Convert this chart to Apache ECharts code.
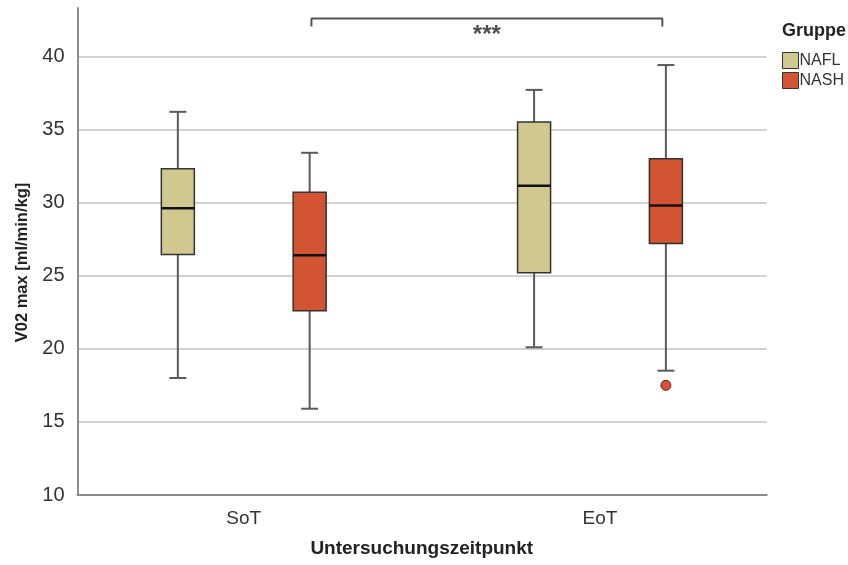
<!DOCTYPE html>
<html>
<head>
<meta charset="utf-8">
<script src="https://cdn.jsdelivr.net/npm/echarts@6/dist/echarts.min.js"></script>
<style>html,body{margin:0;padding:0;background:#fff}#c{width:848px;height:565px}</style>
</head>
<body>
<div id="c"></div>
<script>
// ---- data ----
const categories = ['SoT', 'EoT'];
const groups = ['NAFL', 'NASH'];
// [min, Q1, median, Q3, max] per category
const naflStats = [
  [18.0, 26.45, 29.6, 32.3, 36.2],
  [20.1, 25.2, 31.15, 35.5, 37.7]
];
const nashStats = [
  [15.9, 22.6, 26.4, 30.7, 33.4],
  [18.5, 27.2, 29.8, 33.0, 39.4]
];
// outliers: [categoryIndex, value]
const nashOutliers = [[1, 17.5]];
const yTicks = [10, 15, 20, 25, 30, 35, 40];
const sigLabel = '***';
const sigBracketValues = [42.04, 42.59]; // leg bottom, bar top

// ---- layout constants ----
const BOX_OFFSET = 0.185;
const colors = { NAFL: '#d0c88e', NASH: '#d35432' };

function boxData(stats, off) {
  return stats.map((s, i) => [i + off].concat(s));
}

function renderBox(params, api) {
  const x = api.value(0);
  const mn = api.value(1), q1 = api.value(2), md = api.value(3), q3 = api.value(4), mx = api.value(5);
  const c = v => api.coord([x, v]);
  const pMin = c(mn), pQ1 = c(q1), pMd = c(md), pQ3 = c(q3), pMax = c(mx);
  const cx = pMd[0];
  const hw = 16.5, cw = 8.5;
  const fill = api.visual('color');
  const wStyle = { stroke: '#5a5a5a', lineWidth: 2 };
  return {
    type: 'group',
    children: [
      { type: 'line', shape: { x1: cx, y1: pMax[1], x2: cx, y2: pQ3[1] }, style: wStyle },
      { type: 'line', shape: { x1: cx, y1: pQ1[1], x2: cx, y2: pMin[1] }, style: wStyle },
      { type: 'line', shape: { x1: cx - cw, y1: pMax[1], x2: cx + cw, y2: pMax[1] }, style: wStyle },
      { type: 'line', shape: { x1: cx - cw, y1: pMin[1], x2: cx + cw, y2: pMin[1] }, style: wStyle },
      { type: 'rect', shape: { x: cx - hw, y: pQ3[1], width: hw * 2, height: pQ1[1] - pQ3[1] },
        style: { fill: fill, stroke: '#333', lineWidth: 1.5 } },
      { type: 'line', shape: { x1: cx - hw, y1: pMd[1], x2: cx + hw, y2: pMd[1] },
        style: { stroke: '#111', lineWidth: 2.5 } }
    ]
  };
}

const chart = echarts.init(document.getElementById('c'), null, { renderer: 'canvas' });
const fontFam = 'Liberation Sans, Arial, sans-serif';

const bracketX = [0 + BOX_OFFSET + 0.005, 1 + BOX_OFFSET - 0.01];

chart.setOption({
  animation: false,
  backgroundColor: '#fff',
  textStyle: { fontFamily: fontFam },
  title: {
    text: 'Gruppe', left: 777, top: 17,
    textStyle: { fontFamily: fontFam, fontSize: 18, fontWeight: 'bold', color: '#222' }
  },
  legend: {
    data: groups, orient: 'vertical', left: 777, top: 47,
    icon: 'rect', itemWidth: 16, itemHeight: 16, itemGap: 3,
    itemStyle: { borderColor: '#333', borderWidth: 1 },
    textStyle: { fontFamily: fontFam, fontSize: 16, color: '#333', padding: [0, 0, 0, -4] },
    selectedMode: false
  },
  grid: [
    { left: 77.5, right: 81.3, top: 8, bottom: 70 },
    { left: 65.5, right: 70, top: 8, bottom: 70 }
  ],
  xAxis: [
    {
      type: 'value', gridIndex: 0, min: -0.4667, max: 1.468,
      axisLine: { show: true, onZero: false, lineStyle: { color: '#8c8c8c', width: 2 } },
      axisTick: { show: false }, axisLabel: { show: false }, splitLine: { show: false }
    },
    {
      type: 'category', gridIndex: 1, data: categories, boundaryGap: true,
      axisLine: { show: false }, axisTick: { show: false },
      axisLabel: { fontSize: 19, color: '#333', margin: 14, fontFamily: fontFam },
      name: 'Untersuchungszeitpunkt', nameLocation: 'middle', nameGap: 44,
      nameTextStyle: { fontSize: 19, fontWeight: 'bold', color: '#222', fontFamily: fontFam }
    }
  ],
  yAxis: [
    {
      type: 'value', gridIndex: 0, min: yTicks[0], max: 43.3, interval: 5,
      axisLine: { show: true, onZero: false, lineStyle: { color: '#8c8c8c', width: 2 } },
      axisTick: { show: false },
      axisLabel: {
        fontSize: 20, color: '#333', margin: 13, fontFamily: fontFam, showMaxLabel: false,
        formatter: v => (yTicks.indexOf(v) >= 0 ? String(v) : '')
      },
      splitLine: { show: true, showMaxLine: false, lineStyle: { color: '#d2d2d2', width: 2 } },
      name: 'V02 max [ml/min/kg]', nameLocation: 'middle', nameGap: 47,
      nameTextStyle: { fontSize: 16.5, fontWeight: 'bold', color: '#222', fontFamily: fontFam, padding: [0, 22, 0, 0] }
    },
    {
      type: 'value', gridIndex: 1, min: 10, max: 43.3, show: false
    }
  ],
  series: [
    {
      name: 'NAFL', type: 'custom', xAxisIndex: 0, yAxisIndex: 0,
      itemStyle: { color: colors.NAFL, borderColor: '#333', borderWidth: 1 },
      renderItem: renderBox, encode: { x: 0, y: [1, 2, 3, 4, 5] },
      data: boxData(naflStats, -BOX_OFFSET), z: 3
    },
    {
      name: 'NASH', type: 'custom', xAxisIndex: 0, yAxisIndex: 0,
      itemStyle: { color: colors.NASH, borderColor: '#333', borderWidth: 1 },
      renderItem: renderBox, encode: { x: 0, y: [1, 2, 3, 4, 5] },
      data: boxData(nashStats, BOX_OFFSET), z: 3
    },
    {
      name: 'NASH outliers', type: 'scatter', xAxisIndex: 0, yAxisIndex: 0,
      symbol: 'circle', symbolSize: 10,
      itemStyle: { color: colors.NASH, borderColor: '#6a2412', borderWidth: 1, opacity: 1 },
      data: nashOutliers.map(o => [o[0] + BOX_OFFSET, o[1]]), z: 4
    },
    {
      name: 'bracket', type: 'line', xAxisIndex: 0, yAxisIndex: 0,
      symbol: 'none', lineStyle: { color: '#555', width: 2 },
      data: [
        [bracketX[0], sigBracketValues[0]],
        [bracketX[0], sigBracketValues[1]],
        [bracketX[1], sigBracketValues[1]],
        [bracketX[1], sigBracketValues[0]]
      ], z: 4
    },
    {
      name: 'sig', type: 'scatter', xAxisIndex: 0, yAxisIndex: 0,
      symbolSize: 0,
      label: { show: true, position: 'inside', formatter: sigLabel,
        fontSize: 24, fontWeight: 'bold', color: '#222', fontFamily: fontFam },
      data: [[(bracketX[0] + bracketX[1]) / 2, 41.45]], z: 4
    }
  ]
});
</script>
</body>
</html>
